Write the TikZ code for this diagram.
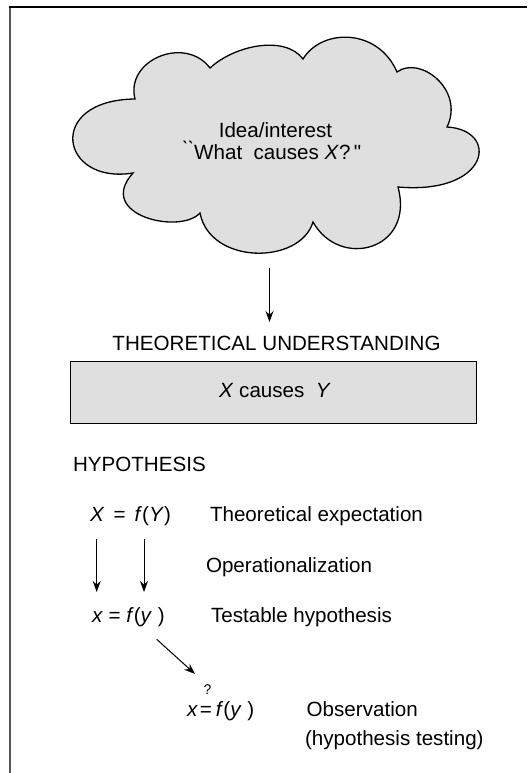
\documentclass[tikz,border=0pt]{standalone}
\usepackage{fontspec}
\setmainfont{Liberation Sans}
\newfontfamily\rawfont{Liberation Sans}
\usetikzlibrary{arrows.meta}
\definecolor{fillgray}{HTML}{DFDFDF}
\definecolor{framegray}{HTML}{555555}
\tikzset{
  lbl/.style={inner sep=0pt, outer sep=0pt, font=\fontsize{20.6}{22}\selectfont, anchor=base west},
  ctr/.style={lbl, anchor=base},
  arr/.style={-{Stealth[length=11pt,width=8pt]}, line width=1pt},
  cloudline/.style={draw=black, fill=fillgray, line width=1.3pt},
  boxline/.style={draw=black, fill=fillgray, line width=1pt},
}
\begin{document}
\begin{tikzpicture}[x=1pt,y=-1pt]
\useasboundingbox (0,0) rectangle (527,773);
% frame
\draw[framegray, line width=2pt] (9.5,6) -- (9.5,773);
\draw[black, line width=1.6pt] (8.5,7) -- (527,7);
% cloud
\draw[cloudline] (133,173) .. controls (60,185) and (45,100) .. (135,99)
  .. controls (125,60) and (185,35) .. (210,68)
  .. controls (235,45) and (285,35) .. (303,59)
  .. controls (322,28) and (378,28) .. (397,72)
  .. controls (420,55) and (465,90) .. (447,127)
  .. controls (500,130) and (490,195) .. (398,187)
  .. controls (415,250) and (340,270) .. (313,222)
  .. controls (300,265) and (210,265) .. (200,213)
  .. controls (180,235) and (95,215) .. (133,173) -- cycle;
\node[ctr] (idea1) at (275.5,137.5) {Idea/interest};
\node[ctr] (idea2) at (272,159.5) {\rawfont\`{}\`{}What\ \ causes \textit{X}?\,"};
% arrow
\coordinate (cloudbot) at (269.5,268);
\coordinate (thtop) at (269.5,322);
\draw[arr] (cloudbot) -- (thtop);
\node[ctr] (theo) at (276.5,350) {THEORETICAL UNDERSTANDING};
\draw[boxline] (70,361) rectangle (476,423);
\node[ctr] (xcy) at (275,397) {\textit{X} causes \ \textit{Y}};
\node[lbl] (hyp) at (73,471) {HYPOTHESIS};
\node[lbl] (eq1) at (90,521.5) {\textit{X}\, = \,\textit{f}(\textit{Y})};
\node[lbl] (te) at (210,521.5) {Theoretical expectation};
\coordinate (a1s) at (96.7,539);
\coordinate (a1e) at (96.7,592);
\coordinate (a2s) at (144,539);
\coordinate (a2e) at (144,592);
\draw[arr] (a1s) -- (a1e);
\draw[arr] (a2s) -- (a2e);
\node[lbl] (op) at (206,572) {Operationalization};
\node[lbl] (eq2) at (92,622.5) {\textit{x} = \textit{f}(\textit{y} )};
\node[lbl] (th) at (211,622.5) {Testable hypothesis};
\coordinate (ds) at (156.7,639.3);
\coordinate (de) at (195,674);
\draw[arr] (ds) -- (de);
\node[lbl] (eq3) at (187,716.5) {\textit{x}\hspace{2pt}=\hspace{4pt}\textit{f}(\textit{y} )};
\node[inner sep=0pt, anchor=base, font=\fontsize{14}{14}\selectfont] (q) at (207.5,694) {?};
\node[lbl] (obs) at (306.7,716.5) {Observation};
\node[lbl] (ht) at (305,745) {(hypothesis testing)};
\end{tikzpicture}
\end{document}
